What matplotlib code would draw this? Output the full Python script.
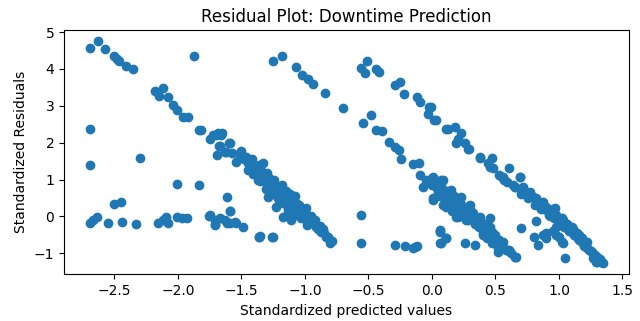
import matplotlib
matplotlib.use("Agg")
import matplotlib.pyplot as plt
import numpy as np

# top-left cluster of large positive residuals
top_x = [-2.694, -2.63, -2.57, -2.505, -2.48, -2.46, -2.41, -2.35, -1.87]
top_y = [4.57, 4.75, 4.55, 4.34, 4.28, 4.21, 4.08, 4.01, 4.35]

# first long diagonal band (left)
band_a_x = [-2.18, -2.12, -2.15, -2.08, -2.04, -2.01, -1.96, -1.92, -1.83, -1.815,
            -1.75, -1.724, -1.684, -1.65, -1.70, -1.66, -1.67, -1.60, -1.68, -1.59,
            -1.63, -1.69, -1.62, -1.57, -1.54, -1.50, -1.47, -1.46, -1.45, -1.45,
            -1.41, -1.37, -1.33, -1.33, -1.30, -1.28, -1.29, -1.26, -1.24, -1.21,
            -1.185, -1.23, -1.20, -1.16, -1.15, -1.12, -1.09, -1.07, -1.17, -1.13,
            -1.11, -1.04, -1.015, -0.99, -0.98, -0.94, -0.91, -0.87, -0.83, -0.79,
            -1.40, -1.38, -1.35, -1.35, -1.32, -1.30, -1.28, -1.25, -1.25, -1.22,
            -1.20, -1.18, -1.18, -1.15, -1.14, -1.12, -1.10, -1.08, -1.06, -1.05,
            -1.02, -1.00, -0.97, -0.95, -0.93, -0.90, -0.88, -0.85, -0.82, -1.43,
            -1.48, -1.52, -1.42, -1.36,
            -1.44, -1.39, -1.34, -1.31, -1.27, -1.23, -1.19, -1.16, -1.13, -1.09,
            -1.06, -1.03, -0.99, -0.96, -0.92, -0.86, -1.41, -1.37, -1.31, -1.26,
            -1.21, -1.17, -1.13, -1.08, -1.03, -1.27, -1.22, -1.19, -1.14, -1.10]
band_a_y = [3.40, 3.49, 3.27, 3.24, 3.02, 2.88, 2.70, 2.70, 2.34, 2.34,
            2.11, 2.20, 2.25, 2.25, 2.20, 2.22, 1.91, 1.98, 1.91, 1.98,
            1.75, 1.66, 1.75, 1.71, 1.48, 1.77, 1.62, 1.62, 1.44, 1.25,
            1.17, 1.07, 1.44, 0.98, 1.17, 0.89, 0.53, 0.71, 0.98, 0.80,
            0.71, 0.26, 0.44, 0.58, 0.40, 0.62, 0.49, 0.35, -0.01, 0.12,
            -0.10, 0.12, -0.05, 0.22, -0.24, -0.15, -0.28, -0.42, -0.55, -0.66,
            1.30, 1.20, 1.30, 0.95, 1.10, 0.85, 1.05, 0.90, 0.60, 0.75,
            0.60, 0.85, 0.45, 0.70, 0.30, 0.45, 0.20, 0.55, 0.10, 0.30,
            0.00, 0.15, -0.10, 0.00, -0.20, -0.35, -0.25, -0.45, -0.55, 1.40,
            1.55, 1.68, 1.55, 1.40,
            1.50, 1.35, 1.20, 1.00, 0.95, 0.80, 0.65, 0.50, 0.35, 0.40,
            0.20, 0.10, 0.05, -0.05, -0.10, -0.35, 1.15, 1.00, 0.75, 0.70,
            0.50, 0.35, 0.20, 0.05, -0.05, 0.80, 0.65, 0.55, 0.40, 0.25]

# scattered low residuals on the left
low_x = [-2.694, -2.694, -2.30, -2.01, -1.83, -1.61, -2.505, -2.445, -2.69, -2.67,
         -2.64, -2.55, -2.44, -2.33, -2.16, -2.12, -2.09, -2.08, -2.01, -1.97,
         -1.93, -1.755, -1.71, -1.67, -1.587, -1.61, -1.54, -1.49, -1.36, -1.59,
         -1.75, -1.71, -1.63, -1.59, -1.55, -1.71, -1.36, -1.25, -1.356, -1.256,
         -0.805]
low_y = [2.38, 1.39, 1.59, 0.87, 0.85, 0.53, 0.33, 0.38, -0.19, -0.10,
         -0.01, -0.17, -0.15, -0.22, -0.19, -0.10, -0.01, -0.19, -0.01, -0.04,
         -0.04, 0.02, -0.22, -0.04, 0.14, -0.19, -0.19, -0.28, -0.55, 0.15,
         0.04, -0.10, -0.10, -0.19, -0.15, -0.24, -0.55, -0.57, -0.52, -0.55,
         -0.71]

# second band (upper middle)
band_b_x = [-1.25, -1.18, -1.07, -1.02, -0.975, -0.936, -0.84, -0.70]
band_b_y = [4.21, 4.34, 4.05, 3.83, 3.74, 3.58, 3.35, 2.93]

# third band (upper right, long)
band_c_x = [-0.555, -0.51, -0.53, -0.44, -0.42, -0.293, -0.25, -0.22, -0.12, -0.096,
            -0.02, -0.03, 0.02, 0.11, -0.004, 0.035, 0.13, 0.18, 0.23, 0.205,
            0.26, 0.29, 0.377, 0.47, 0.455, 0.61, 0.53, 0.57, 0.64, 0.69,
            0.72, 0.77, 0.82, 0.875, 0.97, 0.93, 0.98, 1.03, 1.11, 1.16,
            1.22, 1.27, 1.35, 1.295, 0.19, 0.28, 0.377, 0.44, 0.48, 0.55,
            0.59, 0.65, 0.70, 0.755, 0.81, 0.56, 0.69, 0.65, 0.72, 0.82,
            0.95, 1.01, 1.06, 1.10, 1.14, 1.18, 1.26, 1.30, 0.85, 0.88,
            0.90, 0.92, 0.94, 0.96, 0.98, 1.00, 1.02, 1.04, 1.06, 1.08,
            1.10, 1.12, 1.14, 1.16, 1.20, 1.24, 1.28, 1.32, 1.33, 1.30,
            0.74, 0.79, 0.84, 0.87, 0.91, 0.95, 0.99, 1.03, 1.07, 1.11,
            1.15, 1.18, 1.22, 1.25, 1.29, 0.86, 0.93, 0.97, 1.05, 1.13]
band_c_y = [4.03, 4.21, 3.88, 4.01, 3.92, 3.56, 3.65, 3.33, 3.24, 3.11,
            2.97, 2.79, 2.61, 2.38, 2.97, 2.61, 2.38, 2.43, 2.25, 2.11,
            1.98, 1.82, 1.59, 1.59, 1.34, 1.30, 1.12, 0.98, 0.85, 1.07,
            0.76, 0.67, 0.49, 0.40, 0.22, 0.12, -0.05, -0.15, -0.33, -0.51,
            -0.69, -1.14, -1.27, -1.23, 1.98, 1.84, 1.62, 1.44, 1.30, 1.07,
            0.94, 0.80, 0.62, 0.49, 0.31, 1.07, 1.07, 0.80, 0.80, 0.44,
            0.17, -0.10, -0.28, -0.37, -0.55, -0.69, -0.96, -1.09, 0.30, 0.20,
            0.25, 0.05, 0.10, -0.05, 0.05, -0.20, -0.05, -0.30, -0.20, -0.40,
            -0.30, -0.50, -0.45, -0.65, -0.80, -0.90, -1.05, -1.15, -1.25, -1.25,
            0.60, 0.55, 0.40, 0.35, 0.15, 0.20, -0.10, -0.10, -0.35, -0.40,
            -0.60, -0.60, -0.85, -0.95, -1.15, 0.20, 0.00, 0.00, -0.25, -0.50]

# fourth band (lower middle)
band_d_x = [-0.48, -0.54, -0.44, -0.39, -0.34, -0.293, -0.26, -0.24, -0.15, -0.10,
            -0.096, -0.07, -0.02, 0.02, 0.01, 0.087, 0.075, 0.11, 0.00, 0.087,
            0.02, 0.11, 0.14, 0.22, 0.205, 0.28, 0.32, 0.36, 0.455, 0.01,
            0.035, 0.01, 0.075, 0.087, 0.10, 0.15, 0.18, 0.19, 0.23, 0.245,
            0.27, 0.30, 0.32, 0.35, 0.377, 0.40, 0.47, 0.51, 0.55, 0.59,
            0.65, -0.05, 0.00, 0.03, 0.05, 0.07, 0.09, 0.12, 0.13, 0.15,
            0.16, 0.18, 0.20, 0.21, 0.23, 0.25, 0.27, 0.29, 0.31, 0.33,
            0.35, 0.37, 0.39, 0.42, 0.44, 0.46, 0.48, 0.50, 0.53, 0.56,
            0.58, 0.62,
            0.04, 0.08, 0.12, 0.14, 0.17, 0.19, 0.22, 0.24, 0.26, 0.28,
            0.30, 0.34, 0.38, 0.41, 0.43, 0.45, 0.49, 0.52, 0.06, 0.10,
            0.16, 0.20, 0.25, 0.33, 0.40]
band_d_y = [2.76, 2.52, 2.34, 2.31, 2.01, 1.89, 1.80, 1.57, 1.41, 1.44,
            1.12, 0.80, 0.98, 0.85, 0.49, 0.31, 0.94, 0.67, 1.03, 0.98,
            0.49, 0.26, 0.67, 0.49, -0.01, 0.26, 0.04, -0.24, -0.05, 1.07,
            0.80, 0.44, 0.98, 0.71, 0.53, 0.71, 0.44, -0.01, 0.53, 0.17,
            -0.10, 0.31, 0.08, -0.19, -0.01, -0.37, -0.42, -0.64, -0.82, -0.91,
            -1.09, 1.00, 0.85, 0.95, 0.70, 0.85, 0.60, 0.55, 0.40, 0.50,
            0.30, 0.20, 0.35, 0.10, 0.20, 0.00, 0.10, -0.05, 0.15, -0.10,
            -0.05, -0.30, -0.15, -0.35, -0.45, -0.30, -0.55, -0.50, -0.75, -0.70,
            -0.90, -1.00,
            0.80, 0.60, 0.70, 0.35, 0.55, 0.25, 0.40, 0.05, 0.25, -0.10,
            0.00, -0.20, -0.25, -0.20, -0.60, -0.50, -0.65, -0.85, 0.55, 0.45,
            0.15, 0.25, 0.10, -0.05, -0.45]

# scattered low residuals on the right
scat_x = [-0.555, -0.555, -0.293, -0.15, -0.12, 0.061, 0.075, 0.06, 0.11, 0.06,
          0.26, 0.34, 0.40, 0.47, 0.52, 0.59, 0.65, 0.70, 0.82, 0.80,
          0.835, 0.875, 1.045, 1.03, 0.06, 0.11, -0.135, -0.21, 0.90, 0.98,
          1.02, 0.53, 0.61, 0.665, 0.90, 0.95, 0.98, 1.00]
scat_y = [0.04, -0.73, -0.78, -0.85, -0.80, -0.40, -0.73, -0.42, -0.60, -0.73,
          -0.73, -0.78, -0.51, -0.73, -0.96, -0.91, -1.09, -0.31, -0.13, -0.55,
          -0.78, -0.51, -1.14, -0.73, -0.37, -0.60, -0.82, -0.80, -0.60, -0.28,
          -0.69, -0.64, -0.91, -1.09, -0.45, -0.40, -0.50, -0.55]

x = np.concatenate([top_x, band_a_x, low_x, band_b_x, band_c_x, band_d_x, scat_x])
y = np.concatenate([top_y, band_a_y, low_y, band_b_y, band_c_y, band_d_y, scat_y])

fig, ax = plt.subplots(figsize=(6.4, 3.21), dpi=100)
fig.subplots_adjust(left=0.1, right=0.983, top=0.906, bottom=0.1455)

ax.scatter(x, y, color="#1f77b4")
ax.set_title("Residual Plot: Downtime Prediction")
ax.set_xlabel("Standardized predicted values")
ax.set_ylabel("Standardized Residuals")

plt.savefig("out.png")
